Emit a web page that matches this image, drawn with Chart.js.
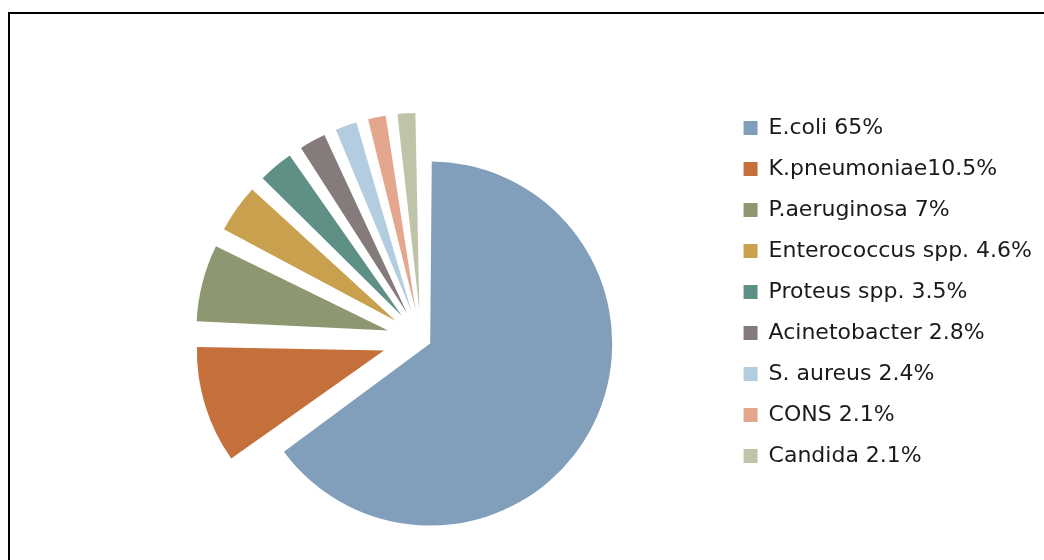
<!DOCTYPE html>
<html>
<head>
<meta charset="utf-8">
<script src="https://cdn.jsdelivr.net/npm/chart.js@4.4.1/dist/chart.umd.min.js"></script>
<style>
  body { margin: 0; background: #fff; }
  #wrap { position: relative; width: 1044px; height: 560px; overflow: hidden; }
  #frame { position: absolute; left: 8px; top: 12px; width: 1100px; height: 600px;
           border-top: 2px solid #000; border-left: 2px solid #000; }
  #pie { position: absolute; left: 0; top: 0; }
</style>
</head>
<body>
<div id="wrap">
  <div id="frame"></div>
  <!-- canvas runs a bit past the bottom so the pie sits lower than the legend -->
  <canvas id="pie" width="1044" height="580"></canvas>
</div>
<script>
// organisms isolated //
const organisms = ["E.coli", "K.pneumoniae", "P.aeruginosa", "Enterococcus spp.", "Proteus spp.",
  "Acinetobacter", "S. aureus", "CONS", "Candida"];
// share of isolates in percent //
const shares = [65, 10.5, 7, 4.6, 3.5, 2.8, 2.4, 2.1, 2.1];
// legend text as printed //
const legendText = ["E.coli 65%", "K.pneumoniae10.5%", "P.aeruginosa 7%", "Enterococcus spp. 4.6%",
  "Proteus spp. 3.5%", "Acinetobacter 2.8%", "S. aureus 2.4%", "CONS 2.1%", "Candida 2.1%"];

const sliceColors = ["#819fbb", "#c56f3b", "#8e9870", "#c8a04e", "#5f9086",
  "#857b7b", "#b2cce0", "#e4a68d", "#bfc4a8"];

// exploded slices (E.coli only a little) //
const explode = [40, 156, 137, 126, 121, 118, 117, 116, 116];

new Chart("pie", {
  type: "pie",
  data: {
    labels: legendText,
    datasets: [{
      data: shares,
      backgroundColor: sliceColors,
      borderWidth: 0,
      offset: explode,
      radius: 172,
      clip: false
    }]
  },
  options: {
    responsive: false,
    animation: false,
    layout: {
      padding: {left: 118, right: 2, top: 98, bottom: 0}
    },
    plugins: {
      tooltip: {enabled: false},
      legend: {
        position: "right",
        align: "start",
        labels: {
          boxWidth: 14,
          boxHeight: 14,
          padding: 19,
          color: "#1a1a1a",
          font: {family: "DejaVu Sans", size: 22}
        }
      }
    }
  }
});
</script>
</body>
</html>
